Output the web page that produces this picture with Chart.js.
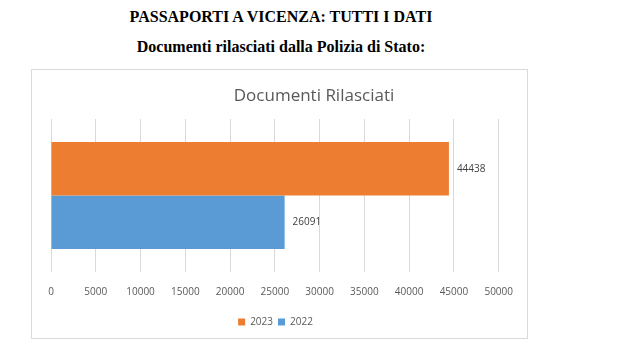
<!DOCTYPE html>
<html lang="it">
<head>
    <meta charset="UTF-8">
    <title>Passaporti a Vicenza</title>
    <style>
        body {
            margin: 0;
            background: #fff;
            width: 619px;
            height: 351px;
            position: relative;
            overflow: hidden;
        }

        .head {
            position: absolute;
            left: 0;
            width: 562px;
            text-align: center;
            font-family: 'Liberation Serif', 'Times New Roman', serif;
            font-weight: bold;
            font-size: 16px;
            color: #000;
            margin: 0;
        }

        .chart-box {
            position: absolute;
            left: 31px;
            top: 69px;
            width: 495px;
            height: 268px;
            border: 1px solid #d9d9d9;
        }
    </style>
</head>
<body>
    <p class="head" style="top:8px">PASSAPORTI A VICENZA: TUTTI I DATI</p>
    <p class="head" style="top:38px">Documenti rilasciati dalla Polizia di Stato:</p>
    <div class="chart-box">
        <canvas id="docChart"></canvas>
    </div>

    <script src="https://cdn.jsdelivr.net/npm/chart.js"></script>
    <script>
        // dati
        const categories = [''];
        const years = ['2023', '2022'];
        const values2023 = [44438];
        const values2022 = [26091];
        const xTicks = [0, 5000, 10000, 15000, 20000, 25000, 30000, 35000, 40000, 45000, 50000];

        const chartFont = "'Open Sans', 'Noto Sans', sans-serif";

        // titolo del grafico, spostato a destra come nell'originale
        const titlePlugin = {
            id: 'titleText',
            afterDraw(chart) {
                const ctx = chart.ctx;
                ctx.save();
                ctx.font = "17px " + chartFont;
                ctx.fillStyle = '#595959';
                ctx.textAlign = 'center';
                ctx.textBaseline = 'middle';
                ctx.fillText('Documenti Rilasciati', 282, 26);
                ctx.restore();
            }
        };

        // etichette dei valori a destra delle barre
        const valueLabels = {
            id: 'valueLabels',
            afterDatasetsDraw(chart) {
                const ctx = chart.ctx;
                ctx.save();
                ctx.font = "10px " + chartFont;
                ctx.fillStyle = '#404040';
                ctx.textAlign = 'left';
                ctx.textBaseline = 'middle';
                chart.data.datasets.forEach((ds, i) => {
                    chart.getDatasetMeta(i).data.forEach((bar, j) => {
                        ctx.fillText(ds.data[j], bar.x + 8, bar.y);
                    });
                });
                ctx.restore();
            }
        };

        new Chart(document.getElementById('docChart'), {
            type: 'bar',
            data: {
                labels: categories,
                datasets: [{
                    label: years[0],
                    data: values2023,
                    backgroundColor: '#ED7D31',
                    categoryPercentage: 0.7,
                    barPercentage: 1.0
                }, {
                    label: years[1],
                    data: values2022,
                    backgroundColor: '#5B9BD5',
                    categoryPercentage: 0.7,
                    barPercentage: 1.0
                }]
            },
            options: {
                indexAxis: 'y',
                responsive: true,
                maintainAspectRatio: false,
                animation: false,
                layout: {
                    padding: { left: 19, right: 27, top: 49, bottom: 1 }
                },
                plugins: {
                    legend: {
                        position: 'bottom',
                        labels: {
                            boxWidth: 7,
                            boxHeight: 7,
                            padding: 5,
                            color: '#595959',
                            font: { family: chartFont, size: 10 }
                        }
                    },
                    tooltip: { enabled: false }
                },
                scales: {
                    x: {
                        min: 0,
                        max: 50000,
                        afterBuildTicks(axis) {
                            axis.ticks = xTicks.map(v => ({ value: v }));
                        },
                        grid: { color: '#d9d9d9', drawTicks: false },
                        border: { display: false },
                        ticks: {
                            padding: 14,
                            color: '#595959',
                            font: { family: chartFont, size: 10 },
                            callback: v => String(v)
                        }
                    },
                    y: {
                        display: false
                    }
                }
            },
            plugins: [titlePlugin, valueLabels]
        });
    </script>
</body>
</html>
